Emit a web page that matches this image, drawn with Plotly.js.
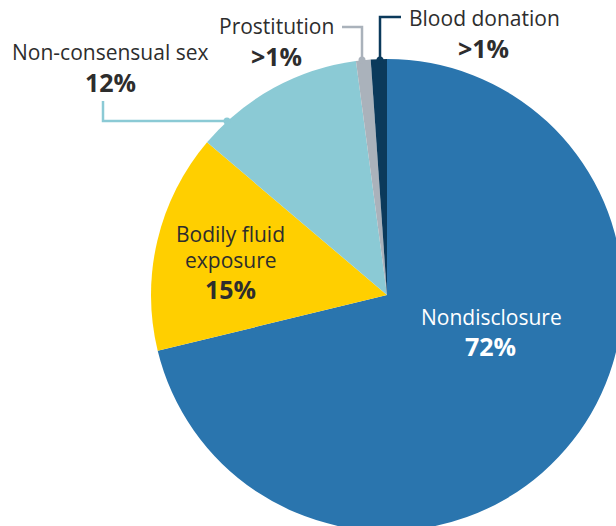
<!DOCTYPE html>
<html><head><meta charset="utf-8">
<script src="https://cdn.plot.ly/plotly-3.0.1.min.js"></script>
<style>html,body{margin:0;padding:0;overflow:hidden;background:#fff;width:616px;height:526px}#c{width:774px;height:590px}</style>
</head><body><div id="c"></div>
<script>
const categories = ["Nondisclosure", "Bodily fluid exposure", "Non-consensual sex", "Prostitution", "Blood donation"];
const values = [71.2, 15.0, 11.7, 1.0, 1.1];
const pctLabels = ["72%", "15%", "12%", ">1%", ">1%"];
const colors = ["#2a75ae", "#ffcf00", "#8bcad5", "#aab2bb", "#0b3a5b"];

const W = 774, H = 590;
const px = x => x / W, py = y => 1 - y / H;
const dark = "#2d2d2d";
const F = "Open Sans, sans-serif";

function ann(x, y, text, size, color, bold, xanchor) {
  return {xref:"paper", yref:"paper", x:px(x), y:py(y), text: bold ? "<b>"+text+"</b>" : text,
    showarrow:false, xanchor: xanchor || "center", yanchor:"middle",
    font:{family:F, size:size, color:color}};
}
const R = 21, B = 25;
const annotations = [
  ann(491, 317, categories[0], R, "#ffffff", false),
  ann(490, 346, pctLabels[0], B, "#ffffff", true),
  ann(231, 234, "Bodily fluid", R, dark, false),
  ann(231, 260, "exposure", R, dark, false),
  ann(231, 289, pctLabels[1], B, dark, true),
  ann(110, 52, categories[2], R, dark, false),
  ann(110, 82, pctLabels[2], B, dark, true),
  ann(276, 26, categories[3], R, dark, false),
  ann(276, 56, pctLabels[3], B, dark, true),
  ann(407, 18, categories[4], R, dark, false, "left"),
  ann(483, 48, pctLabels[4], B, dark, true)
];
function path(pts, color) {
  let d = "M" + pts.map(p => px(p[0]) + "," + py(p[1])).join(" L");
  return {type:"path", xref:"paper", yref:"paper", path:d, line:{color:color, width:2.5}};
}
function dot(x, y, color) {
  const r = 3.5;
  return {type:"circle", xref:"paper", yref:"paper", x0:px(x-r), x1:px(x+r), y0:py(y+r), y1:py(y-r),
    fillcolor:color, line:{width:0}};
}
const shapes = [
  path([[103,101],[103,121],[227,121]], colors[2]), dot(227,121,colors[2]),
  path([[342,27],[362,27],[362,60]], colors[3]), dot(362,60,colors[3]),
  path([[401,17],[380,17],[380,60]], colors[4]), dot(380,60,colors[4])
];

Plotly.newPlot("c", [{
  type:"pie", labels:categories, values:values, sort:false, direction:"clockwise", rotation:0,
  marker:{colors:colors, line:{width:0}}, textinfo:"none", hoverinfo:"none",
  domain:{x:[(387-236)/W, (387+236)/W], y:[1-(295+236)/H, 1-(295-236)/H]}
}], {
  width:W, height:H, margin:{l:0,r:0,t:0,b:0}, showlegend:false,
  paper_bgcolor:"#fff", annotations:annotations, shapes:shapes
}, {staticPlot:true, displayModeBar:false});
</script></body></html>
